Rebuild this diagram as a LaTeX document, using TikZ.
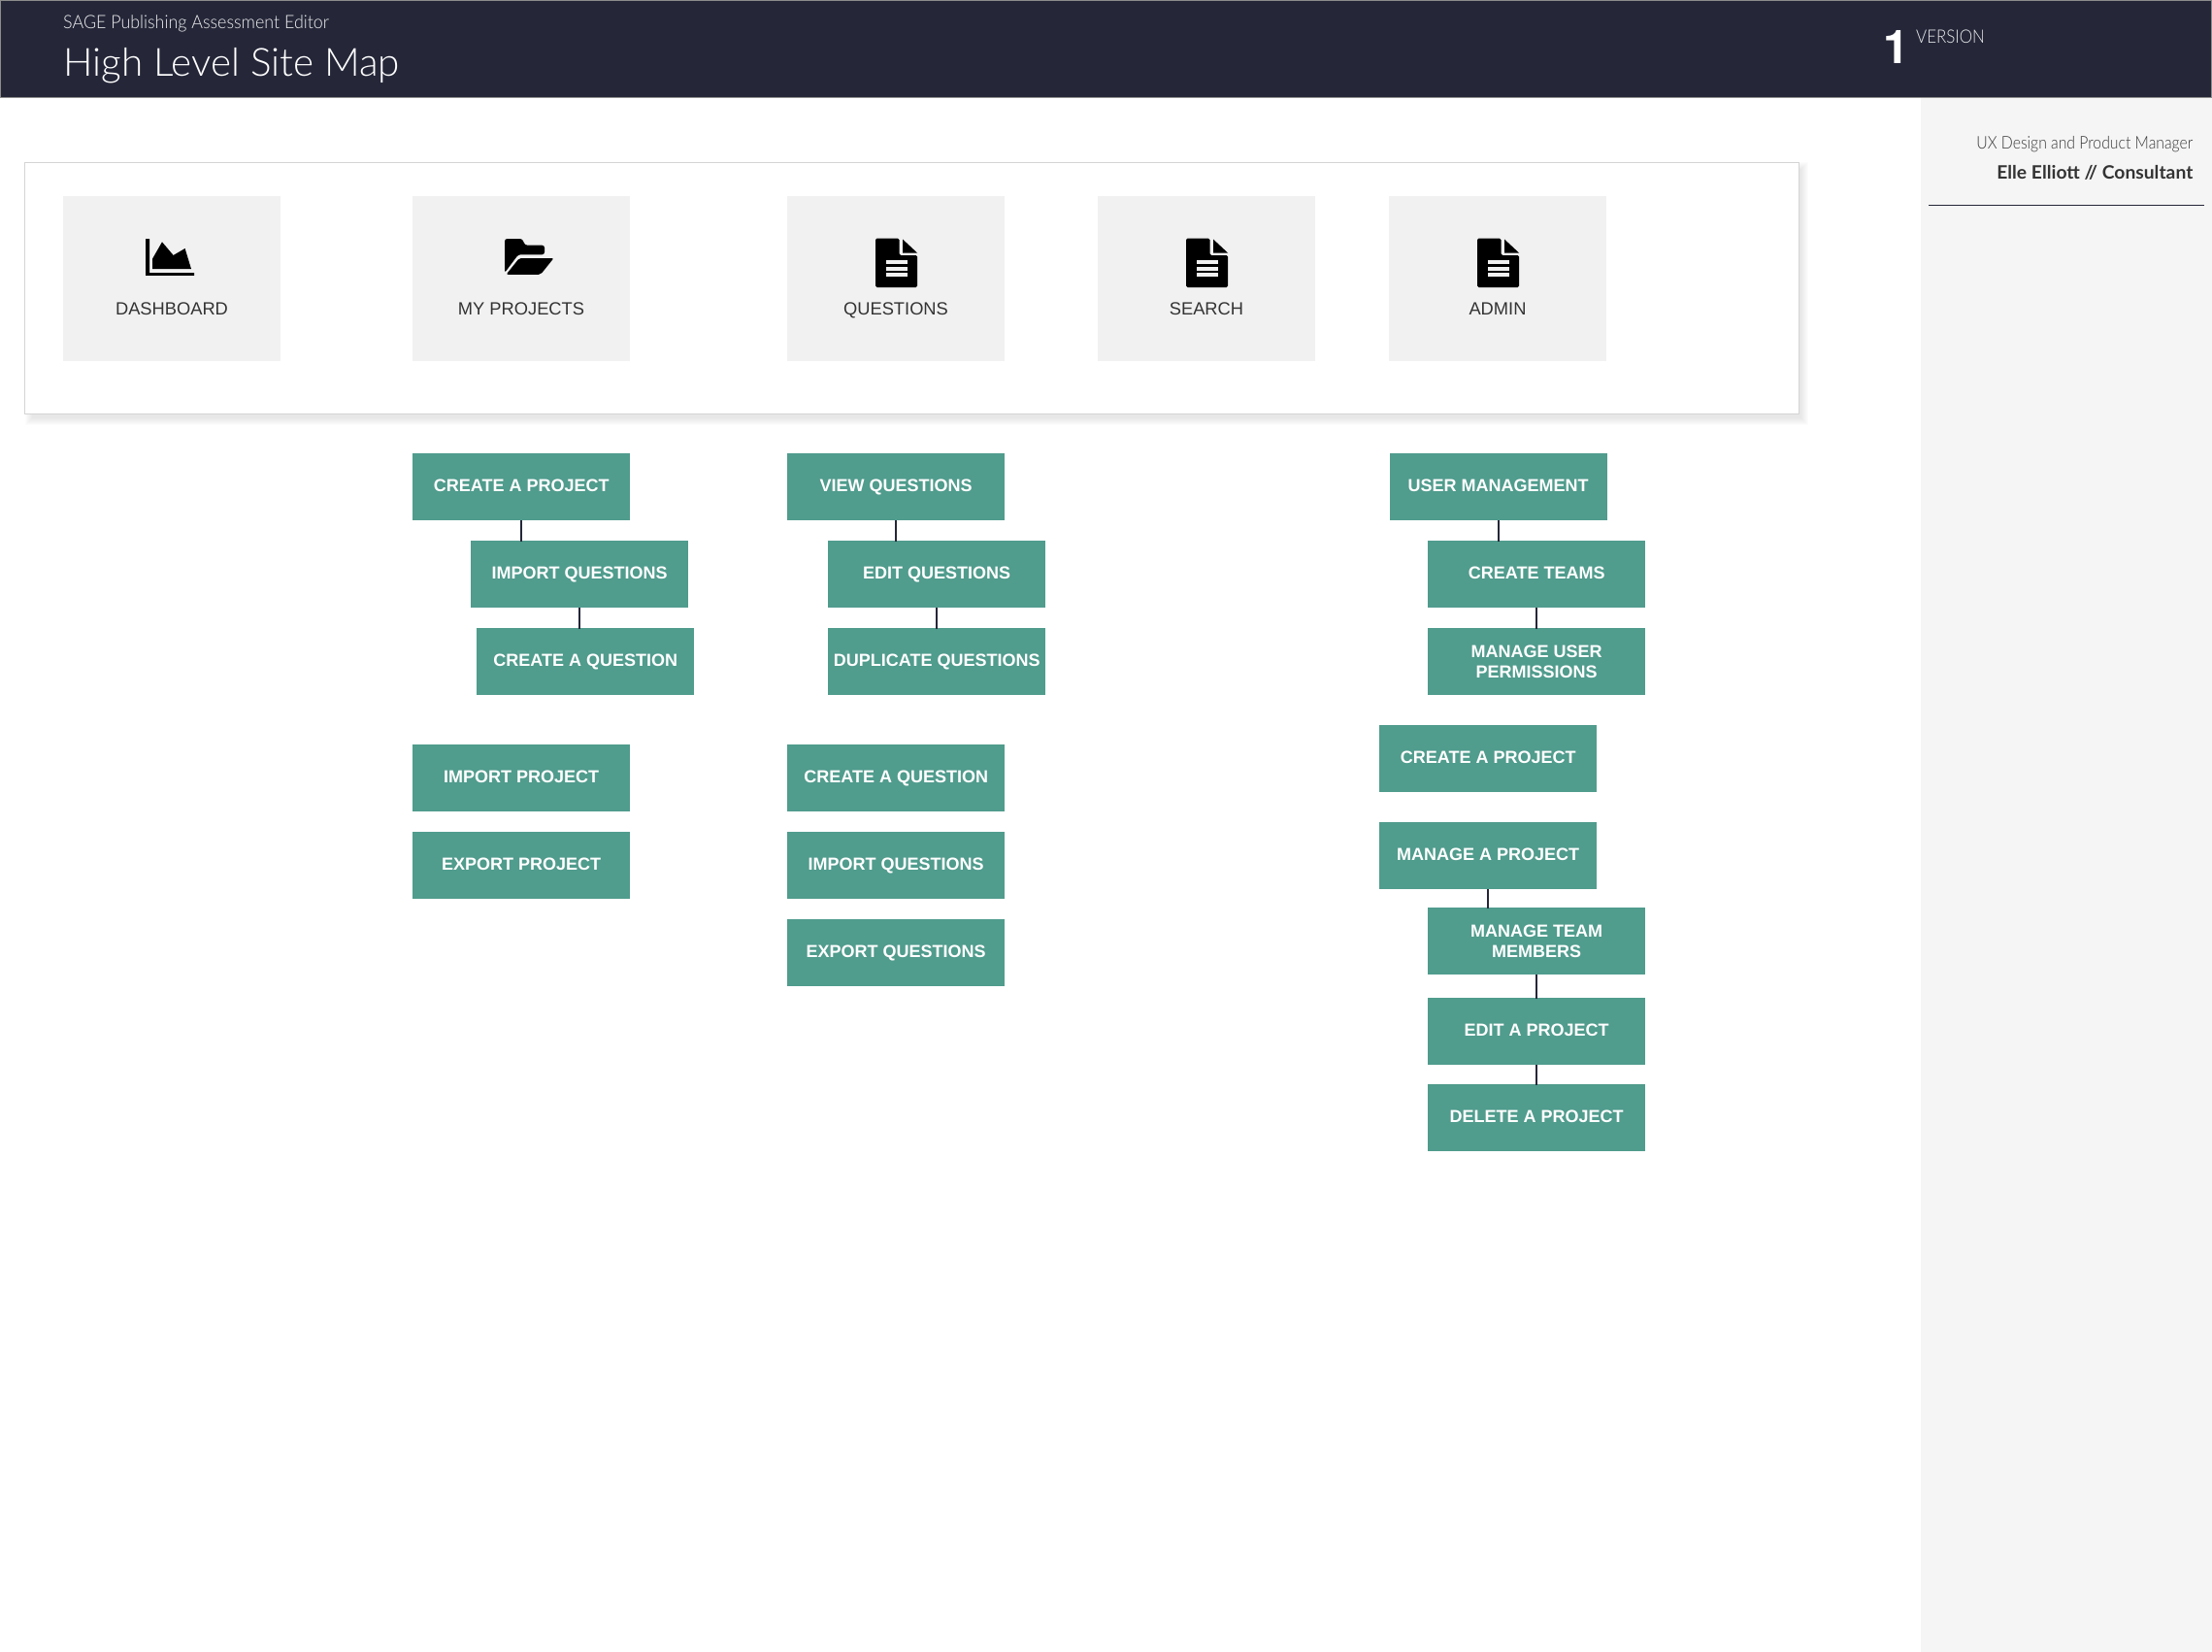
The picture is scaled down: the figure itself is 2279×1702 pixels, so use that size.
\documentclass[tikz,border=0pt]{standalone}
\usepackage{fontspec}
\setmainfont{Liberation Sans}
\newfontfamily\subfont[FakeStretch=0.94]{Lato Light}
\newfontfamily\titlefont[FakeStretch=1.01]{Lato Light}
\newfontfamily\versionfont[FakeStretch=0.89]{Lato Light}
\newfontfamily\rolefont[FakeStretch=0.875]{Lato Light}
\newfontfamily\hdbold[FakeStretch=1.015]{Lato Bold}
\newfontfamily\heros{TeX Gyre Heros}
\definecolor{navy}{HTML}{252739}
\definecolor{teal1}{HTML}{509C8D}
\definecolor{tilegray}{HTML}{F1F1F1}
\definecolor{sidegray}{HTML}{F5F5F5}
\tikzset{
  greenbox/.style={fill=teal1,text=white,minimum width=224pt,minimum height=69pt,inner sep=0pt,anchor=north west,align=center,text height=12.9pt,text depth=2.6pt,font=\fontsize{18}{21}\selectfont\bfseries},
  twoline/.style={text height=,text depth=},
  tilebox/.style={fill=tilegray,minimum width=224pt,minimum height=170pt,inner sep=0pt,anchor=north west},
  tilelabel/.style={text=black!80,inner sep=0pt,anchor=base,font=\fontsize{18.3}{21}\selectfont},
  link/.style={draw=navy,line width=2pt,shorten >=-1pt},
  plain/.style={inner sep=0pt,anchor=base west},
}
\newcommand{\docicon}[1]{%
  \begin{scope}[shift={(#1,0)}]
    \fill[black,rounded corners=1.5pt] (-21.5,245.7) -- (3,245.7) -- (3,263) -- (21.5,263) -- (21.5,296) -- (-21.5,296) -- cycle;
    \fill[black] (6.5,246.5) -- (21.5,260.5) -- (6.5,260.5) -- cycle;
    \fill[tilegray] (-11,268) rectangle (11,272);
    \fill[tilegray] (-11,274.5) rectangle (11,278.5);
    \fill[tilegray] (-11,281.3) rectangle (11,285.3);
  \end{scope}}
\begin{document}
\begin{tikzpicture}[x=1pt,y=-1pt]
\useasboundingbox (0,0) rectangle (2279,1702);
\fill[white] (0,0) rectangle (2279,1702);
% side panel
\fill[sidegray] (1979,100) rectangle (2279,1702);
% header
\fill[navy,draw=black!45,line width=1pt] (0.5,0.5) rectangle (2278.5,100);
\node[plain,text=white!92!navy,font=\subfont\fontsize{19}{21}\selectfont] (subtitle) at (65,30) {SAGE Publishing Assessment Editor};
\node[plain,text=white,font=\titlefont\fontsize{40}{44}\selectfont] (title) at (65,79) {High Level Site Map};
\node[plain,text=white,font=\heros\fontsize{48}{50}\selectfont\bfseries] (vnum) at (1940,66) {1};
\node[plain,text=white!90!navy,font=\versionfont\fontsize{19}{21}\selectfont] (vlabel) at (1974,45) {VERSION};
% side text
\node[inner sep=0pt,anchor=base east,text=black!78,font=\rolefont\fontsize{18}{21}\selectfont] (role) at (2259.5,153) {UX Design and Product Manager};
\node[inner sep=0pt,anchor=base east,text=black!80,font=\hdbold\fontsize{19}{21}\selectfont] (person) at (2259.5,184) {Elle Elliott // Consultant};
\draw[navy,line width=1pt] (1987,211.3) -- (2271,211.3);
% shadow of the panel
\foreach \i in {0,...,7}{
  \fill[black,opacity=0.012] (33-\i,174-\i) rectangle (1856+\i,431+\i);
}
% panel
\fill[white,draw=black!17,line width=1pt] (25.5,167.5) rectangle (1853.5,426);
% tiles
\node[tilebox] (t1) at (65,202) {};
\node[tilebox] (t2) at (425,202) {};
\node[tilebox] (t3) at (811,202) {};
\node[tilebox] (t4) at (1131,202) {};
\node[tilebox] (t5) at (1431,202) {};
\node[tilelabel] (l1) at (177,324) {DASHBOARD};
\node[tilelabel] (l2) at (537,324) {MY PROJECTS};
\node[tilelabel] (l3) at (923,324) {QUESTIONS};
\node[tilelabel] (l4) at (1243,324) {SEARCH};
\node[tilelabel] (l5) at (1543,324) {ADMIN};
% chart icon
\fill[black] (150,246) -- (154,246) -- (154,281) -- (200,281) -- (200,283.8) -- (150,283.8) -- cycle;
\fill[black] (157,277) -- (157,266.7) -- (167,249.3) -- (178.6,263) -- (190.6,256) -- (197,277) -- cycle;
% folder icon
\fill[black,rounded corners=2.5pt] (520,281) -- (520,246) -- (538,246) -- (541,252.7) -- (561,252.7) -- (561,262.3) -- (534,262.3) -- (520,281) -- cycle;
\fill[black,rounded corners=2pt] (535,266) -- (570.5,266) -- (557,282.8) -- (521.5,282.8) -- cycle;
% document icons
\docicon{923.5}
\docicon{1243.5}
\docicon{1543.5}
% green boxes
\node[greenbox] (a1) at (425,467) {CREATE A PROJECT};
\node[greenbox] (a2) at (485,557) {IMPORT QUESTIONS};
\node[greenbox] (a3) at (491,647) {CREATE A QUESTION};
\node[greenbox] (a4) at (425,767) {IMPORT PROJECT};
\node[greenbox] (a5) at (425,857) {EXPORT PROJECT};
\node[greenbox] (b1) at (811,467) {VIEW QUESTIONS};
\node[greenbox] (b2) at (853,557) {EDIT QUESTIONS};
\node[greenbox] (b3) at (853,647) {DUPLICATE QUESTIONS};
\node[greenbox] (b4) at (811,767) {CREATE A QUESTION};
\node[greenbox] (b5) at (811,857) {IMPORT QUESTIONS};
\node[greenbox] (b6) at (811,947) {EXPORT QUESTIONS};
\node[greenbox] (c1) at (1431.5,467) {USER MANAGEMENT};
\node[greenbox] (c2) at (1471,557) {CREATE TEAMS};
\node[greenbox,twoline] (c3) at (1471,647) {MANAGE USER\\PERMISSIONS};
\node[greenbox] (c4) at (1421,747) {CREATE A PROJECT};
\node[greenbox] (c5) at (1421,847) {MANAGE A PROJECT};
\node[greenbox,twoline] (c6) at (1471,935) {MANAGE TEAM\\MEMBERS};
\node[greenbox] (c7) at (1471,1028) {EDIT A PROJECT};
\node[greenbox] (c8) at (1471,1117) {DELETE A PROJECT};
% connectors
\foreach \p/\q in {a1/a2,a2/a3,b1/b2,b2/b3,c1/c2,c2/c3,c5/c6,c6/c7,c7/c8}{
  \draw[link] (\p.south) -- (\p.south |- \q.north);
}
\end{tikzpicture}
\end{document}
